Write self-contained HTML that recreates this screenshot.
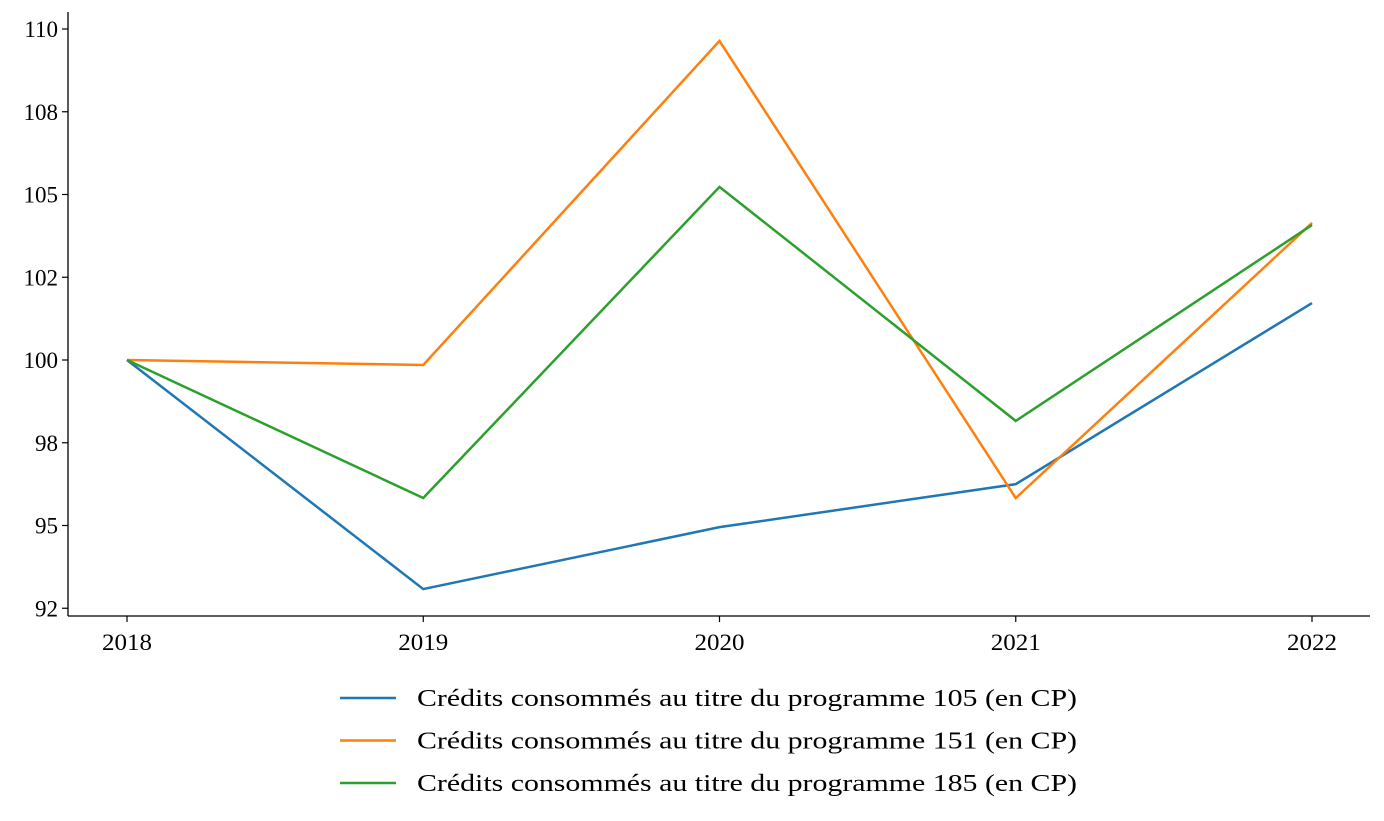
<!DOCTYPE html>
<html><head><meta charset="utf-8"><style>
body{margin:0;background:#fff;}
svg{display:block;font-family:"Liberation Serif",serif;}
</style></head><body>
<svg id="chart" width="1384" height="821"></svg>
<script>
const years=["2018","2019","2020","2021","2022"];
const s105=[100,93.08,94.95,96.25,101.72];
const s151=[100,99.85,109.64,95.83,104.14];
const s185=[100,95.83,105.23,98.16,104.08];
const yTicks=[92.5,95,97.5,100,102.5,105,107.5,110];
const yTickLabels=["92","95","98","100","102","105","108","110"];
const seriesNames=["Crédits consommés au titre du programme 105 (en CP)","Crédits consommés au titre du programme 151 (en CP)","Crédits consommés au titre du programme 185 (en CP)"];
const colors=["#1f77b4","#ff7f0e","#2ca02c"];
const NS="http://www.w3.org/2000/svg";
const svg=document.getElementById('chart');
function x(i){return 127+i*296.25;}
function y(v){return 360-(v-100)*33.1;}
function mk(t,a,p){const e=document.createElementNS(NS,t);for(const k in a)e.setAttribute(k,a[k]);(p||svg).appendChild(e);return e;}
let e=mk('line',{x1:68,y1:12,x2:68,y2:616,stroke:'#000','stroke-width':1.3});


e=mk('line',{x1:68,y1:616,x2:1370,y2:616,stroke:'#000','stroke-width':1.3});


yTicks.forEach((v,i)=>{
  mk('line',{x1:62,x2:68,y1:y(v),y2:y(v),stroke:'#000','stroke-width':1.2});
  const t=mk('text',{x:58,y:y(v)+8,'text-anchor':'end','font-size':23,fill:'#000'});
  t.textContent=yTickLabels[i];
  
  
});
years.forEach((yr,i)=>{
  mk('line',{x1:x(i),x2:x(i),y1:616,y2:622,stroke:'#000','stroke-width':1.2});
  const t=mk('text',{x:x(i),y:650,'text-anchor':'middle','font-size':23,fill:'#000',textLength:50,lengthAdjust:'spacingAndGlyphs'});
  t.textContent=yr;
  
  
});
[s105,s151,s185].forEach((s,k)=>{
  const p=mk('polyline',{points:s.map((v,i)=>x(i)+','+y(v)).join(' '),fill:'none',stroke:colors[k],'stroke-width':2.5});
  
  
  const ly=698+k*42.5;
  const g=mk('g',{});
  
  
  mk('line',{x1:340,x2:396,y1:ly,y2:ly,stroke:colors[k],'stroke-width':2.5},g);
  const t=mk('text',{x:417,y:ly+8,'font-size':24,fill:'#000',textLength:660,lengthAdjust:'spacingAndGlyphs'},g);
  t.textContent=seriesNames[k];
});
</script>
</body></html>
